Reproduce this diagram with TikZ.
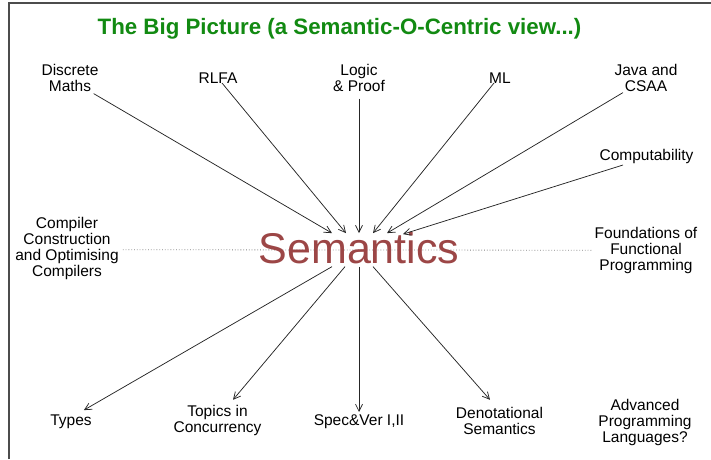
\documentclass[tikz,border=0pt]{standalone}
\usepackage{fontspec}
\setmainfont{Liberation Sans}
\usetikzlibrary{arrows.meta}

\definecolor{Title}{HTML}{128A12}
\definecolor{Sem}{HTML}{9C4646}

\begin{document}
\begin{tikzpicture}[x=1pt, y=-1pt,
  course/.style={inner sep=0pt, align=center, font=\fontsize{15.5}{16}\selectfont},
  link/.style={-{Straight Barb[length=7pt,width=7pt]}, line width=0.75pt, color=black!85}]

 \useasboundingbox (0,0) rectangle (711,459);

 %%%%%%%%%% Frame %%%%%%%%%%
 \draw [line width=1.3pt, color=black!70] (9,459) -- (9,3) -- (711,3);

 %%%%%%%%%% Title %%%%%%%%%%
 \node [anchor=base, inner sep=0pt, color=Title, font=\fontsize{22.3}{26}\selectfont\bfseries] (title) at (339.5,34.5) {The Big Picture (a Semantic-O-Centric view...)};

 %%%%%%%%%% Courses above %%%%%%%%%%
 \node [course, anchor=north] (dm) at (70,63.8) {Discrete\\Maths};
 \node [course, anchor=base] (rlfa) at (218,83) {RLFA};
 \node [course, anchor=north] (lp) at (359,63.8) {Logic\\\& Proof};
 \node [course, anchor=base] (ml) at (500,83) {ML};
 \node [course, anchor=north] (jc) at (646,63.8) {Java and\\CSAA};
 \node [course, anchor=base] (comp) at (646.5,160) {Computability};

 %%%%%%%%%% Courses beside %%%%%%%%%%
 \node [course, anchor=north] (cc) at (67,216.8) {Compiler\\Construction\\and Optimising\\Compilers};
 \node [course, anchor=north] (fp) at (646,226.8) {Foundations of\\Functional\\Programming};

 % dotted axis
 \draw [dotted, line width=0.8pt, color=gray] ([xshift=4pt, yshift=-1.5pt]cc.east) -- ([xshift=-3pt]fp.west);

 %%%%%%%%%% Centre %%%%%%%%%%
 \node [anchor=base, inner sep=0pt, color=Sem, font=\fontsize{43}{50}\selectfont] (sem) at (359,263.5) {Semantics};

 %%%%%%%%%% Courses below %%%%%%%%%%
 \node [course, anchor=base] (ty) at (71,425) {Types};
 \node [course, anchor=north] (tc) at (217.5,404.8) {Topics in\\Concurrency};
 \node [course, anchor=base] (sv) at (359,425) {Spec\&Ver I,II};
 \node [course, anchor=north] (ds) at (499.5,406.8) {Denotational\\Semantics};
 \node [course, anchor=north] (apl) at (645,398.8) {Advanced\\Programming\\Languages?};

 %%%%%%%%%%% Arrows in %%%%%%%%%%%
 \draw [link] ([xshift=-5pt, yshift=-2pt]dm.south east) -- ([xshift=-27pt, yshift=-1pt]sem.north);
 \draw [link] ([xshift=4pt]rlfa.base) -- ([xshift=-13pt, yshift=-1pt]sem.north);
 \draw [link] ([yshift=-7pt]lp.south) -- ([yshift=-1pt]sem.north);
 \draw [link] ([xshift=-6pt]ml.base) -- ([xshift=14pt, yshift=-1pt]sem.north);
 \draw [link] ([xshift=-23pt, yshift=-1pt]jc.south) -- ([xshift=28pt, yshift=-1pt]sem.north);
 \draw [link] ([xshift=-23.5pt, yshift=-5pt]comp.base) -- ([xshift=44pt, yshift=-2pt]sem.north);

 %%%%%%%%%%% Arrows out %%%%%%%%%%%
 \draw [link] ([xshift=-27pt, yshift=-2.5pt]sem.south) -- ([xshift=-8pt, yshift=4pt]ty.north east);
 \draw [link] ([xshift=-14pt, yshift=-2.5pt]sem.south) -- ([xshift=15.5pt, yshift=5pt]tc.north);
 \draw [link] ([yshift=-2.5pt]sem.south) -- ([yshift=2pt]sv.north);
 \draw [link] ([xshift=14pt, yshift=-2.5pt]sem.south) -- ([xshift=-9.5pt, yshift=7pt]ds.north);

\end{tikzpicture}
\end{document}
